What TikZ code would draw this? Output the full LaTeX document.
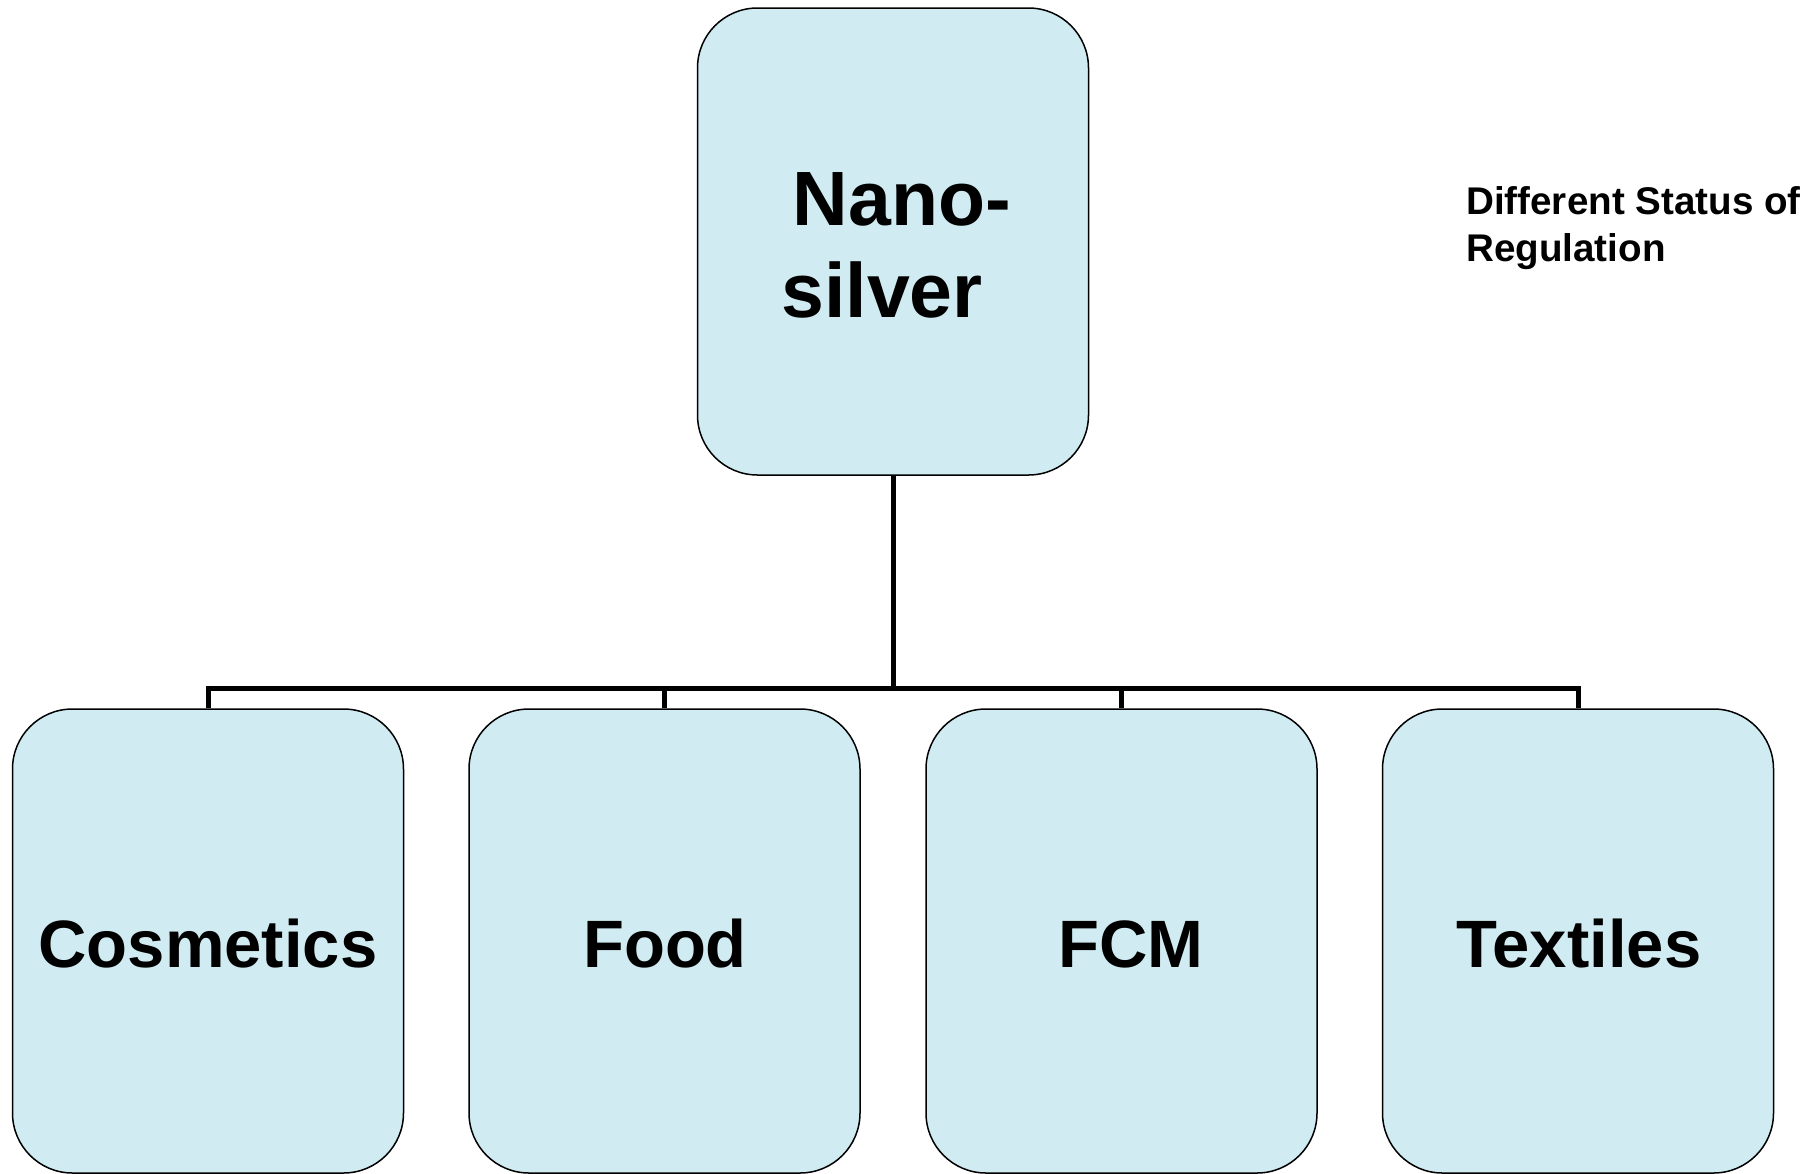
\documentclass[tikz,border=0pt]{standalone}
\usepackage{fontspec}
\setmainfont{Liberation Sans}
\definecolor{boxfill}{RGB}{208,236,242}
\tikzset{
  box/.style={draw=black, line width=1.5pt, fill=boxfill, rounded corners=60pt,
    rectangle, inner sep=0pt, minimum width=391pt},
  big/.style={inner sep=0pt, anchor=base, font=\bfseries\fontsize{77}{92}\selectfont},
  mid/.style={inner sep=0pt, anchor=base, font=\bfseries\fontsize{67}{80}\selectfont},
  small/.style={inner sep=0pt, anchor=base west, font=\bfseries\fontsize{38.6}{46}\selectfont},
  conn/.style={line width=5pt, draw=black}
}
\begin{document}
\begin{tikzpicture}[x=1pt,y=-1pt]
\useasboundingbox (0,0) rectangle (1802,1173);
% top box
\node[box, minimum height=467pt] (top) at (893,241.5) {};
% bottom boxes
\node[box, minimum height=464pt] (b1) at (208,941) {};
\node[box, minimum height=464pt] (b2) at (664.5,941) {};
\node[box, minimum height=464pt] (b3) at (1121.5,941) {};
\node[box, minimum height=464pt] (b4) at (1578,941) {};
% texts
\node[big] (t1) at (902,225) {Nano-};
\node[big] (t2) at (882,317) {silver};
\node[mid] (l1) at (208,967) {Cosmetics};
\node[mid] (l2) at (665,967) {Food};
\node[mid] (l3) at (1131,967) {FCM};
\node[mid] (l4) at (1579,967) {Textiles};
\node[small] (s1) at (1466,214) {Different Status of};
\node[small] (s2) at (1466,261) {Regulation};
% connectors
\coordinate (bus) at (893,688);
\draw[conn] (top.south) -- (bus);
\draw[conn] (bus) -| (b1.north);
\draw[conn] (bus) -| (b2.north);
\draw[conn] (bus) -| (b3.north);
\draw[conn] (bus) -| (b4.north);
\end{tikzpicture}
\end{document}
